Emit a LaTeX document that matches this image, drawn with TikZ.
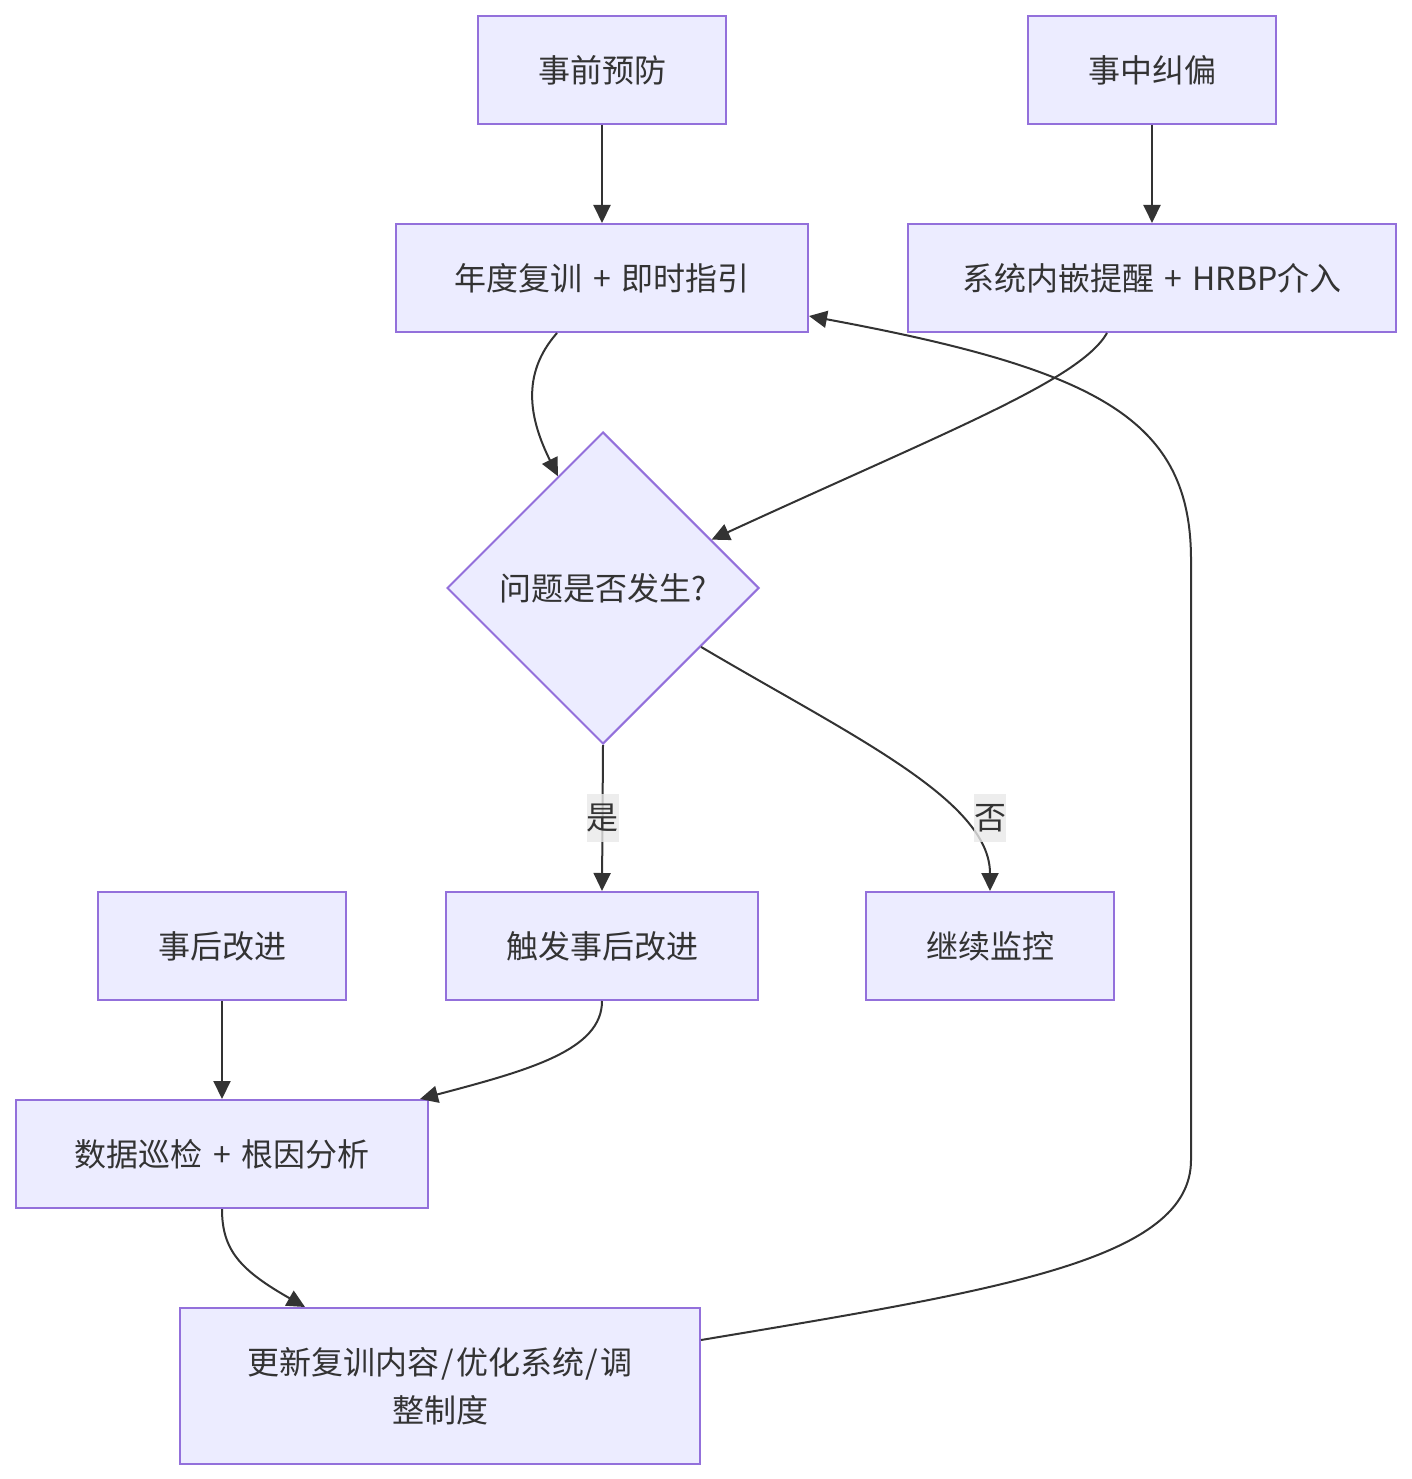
\documentclass[tikz,border=0pt]{standalone}
\usepackage{fontspec}
\setmainfont{Noto Sans CJK SC}
\usetikzlibrary{arrows.meta,shapes.geometric}
\definecolor{boxfill}{HTML}{ECECFF}
\definecolor{boxline}{HTML}{9370DB}
\definecolor{edgeline}{HTML}{333333}
\definecolor{lblfill}{HTML}{E8E8E8}
\newcommand{\plusSep}{\hspace{3pt}+\hspace{3pt}}
\newcommand{\slashSep}{\kern2pt/\kern2pt}

\begin{document}
\begin{tikzpicture}[x=1pt, y=-1pt,
  box/.style={draw=boxline, fill=boxfill, line width=2pt, inner sep=0pt,
    minimum height=108pt, text=edgeline, font=\fontsize{32}{48}\selectfont, align=center},
  decision/.style={box, diamond, aspect=1, minimum width=312pt, minimum height=312pt},
  flow/.style={draw=edgeline, line width=2pt, -{Triangle[length=18pt,width=17pt]}},
  lbl/.style={fill=lblfill, fill opacity=0.8, text opacity=1, text=edgeline, inner xsep=0pt,
    inner ysep=0pt, minimum height=48pt, font=\fontsize{32}{48}\selectfont}]
\path (0,0) rectangle (1411,1479);

\node[box, minimum width=248pt] (shiQian) at (602,70) {事前预防};
\node[box, minimum width=248pt] (shiZhong) at (1152,70) {事中纠偏};
\node[box, minimum width=412pt] (nianDu) at (602,278) {年度复训 \plusSep{} 即时指引};
\node[box, minimum width=488pt] (xiTong) at (1152,278) {系统内嵌提醒 \plusSep{} HRBP介入};
\node[decision] (wenTi) at (603,588) {问题是否发生?};
\node[box, minimum width=248pt] (shiHou) at (222,946) {事后改进};
\node[box, minimum width=312pt] (chuFa) at (602,946) {触发事后改进};
\node[box, minimum width=248pt] (jiXu) at (990,946) {继续监控};
\node[box, minimum width=412pt] (shuJu) at (222,1154) {数据巡检 \plusSep{} 根因分析};
\node[box, minimum width=520pt, minimum height=156pt] (gengXin) at (440,1386) {更新复训内容\slashSep 优化系统\slashSep 调\\整制度};

\draw[flow] (shiQian) -- (nianDu);
\draw[flow] (shiZhong) -- (xiTong);
\draw[flow] ([xshift=-45pt]nianDu.south) .. controls (520,375) and (530,420) .. (wenTi.112);
\draw[flow] ([xshift=-45pt]xiTong.south) .. controls (1080,380) and (950,430) .. (wenTi.24);
\draw[flow] (wenTi.south) -- (chuFa.north) node[lbl, pos=0.5] {是};
\draw[flow] (wenTi.-31) .. controls (850,735) and (990,800) .. (jiXu.north);
\node[lbl] (fouLbl) at (990,818) {否};
\draw[flow] (shiHou) -- (shuJu);
\draw[flow] (chuFa.south) .. controls (602,1050) and (530,1070) .. ([xshift=198pt]shuJu.north);
\draw[flow] (shuJu.south) .. controls (222,1250) and (240,1270) .. ([xshift=-135pt]gengXin.north);
\draw[flow] ([yshift=46pt]gengXin.east) .. controls (1000,1290) and (1191,1260) .. (1191,1160)
  -- (1191,560) .. controls (1191,420) and (1100,370) .. ([yshift=-38pt]nianDu.east);
\end{tikzpicture}
\end{document}
